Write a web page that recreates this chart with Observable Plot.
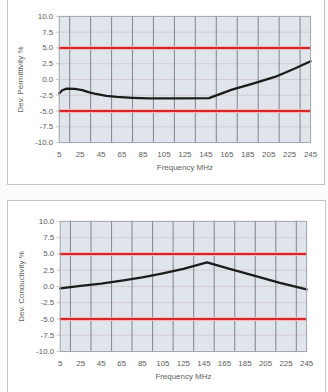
<!DOCTYPE html>
<html>
<head>
<meta charset="utf-8">
<script src="https://cdn.jsdelivr.net/npm/d3@7"></script>
<script src="https://cdn.jsdelivr.net/npm/@observablehq/plot@0.6"></script>
<style>
  html, body { margin: 0; padding: 0; background: #fbfbfb; width: 328px; height: 392px; overflow: hidden; }
  .card { position: absolute; background: #ffffff; border: 1px solid #c4c4c4; box-sizing: border-box; }
  #c1 { left: 7px; top: -2px; width: 318px; height: 187px; }
  #c2 { left: 7px; top: 200px; width: 319px; height: 200px; }
  .card svg { display: block; }
</style>
</head>
<body>
<div class="card" id="c1"></div>
<div class="card" id="c2"></div>
<script>
// ---- data ----
const freqTicks = [5, 25, 45, 65, 85, 105, 125, 145, 165, 185, 205, 225, 245];
const gridFreq = [15, 35, 55, 75, 95, 115, 135, 155, 175, 195, 215, 235];
const yTicks = [-10, -7.5, -5, -2.5, 0, 2.5, 5, 7.5, 10];
const limits = [-5, 5];

const permFreq = [5, 8, 12, 20, 27, 33, 40, 50, 60, 75, 90, 120, 148, 170, 190, 211, 230, 245];
const permDev = [-2.2, -1.7, -1.45, -1.5, -1.7, -2.0, -2.3, -2.6, -2.75, -2.9, -3.0, -3.0, -2.95, -1.6, -0.65, 0.4, 1.75, 2.9];

const condFreq = [5, 25, 45, 65, 85, 105, 125, 148, 170, 192, 219, 245];
const condDev = [-0.3, 0.1, 0.45, 0.9, 1.4, 2.0, 2.7, 3.7, 2.7, 1.75, 0.55, -0.45];

function chart({freq, dev, ylabel, width, height, mt, mb, ml, mr}) {
  const data = freq.map((f, i) => ({f, v: dev[i]}));
  return Plot.plot({
    width, height,
    marginTop: mt, marginBottom: mb, marginLeft: ml, marginRight: mr,
    style: {fontFamily: "'Liberation Sans', Arial, sans-serif", fontSize: "8px", color: "#5e5e5e", background: "transparent"},
    x: {domain: [5, 245]},
    y: {domain: [-10, 10]},
    marks: [
      Plot.frame({fill: "#e0e4eb"}),
      Plot.ruleY(yTicks.filter(d => Math.abs(d) !== 10 && Math.abs(d) !== 5), {stroke: "#d6ccd4", strokeWidth: 1}),
      Plot.ruleX(gridFreq, {stroke: "#878c96", strokeWidth: 1.1}),
      Plot.ruleY(limits, {stroke: "#f4b8b8", strokeWidth: 4}),
      Plot.ruleY(limits, {stroke: "#d22a2c", strokeWidth: 2}),
      Plot.line(data, {x: "f", y: "v", stroke: "#1c1c1c", strokeWidth: 2.3, strokeLinejoin: "round"}),
      Plot.frame({stroke: "#a0a3a8"}),
      Plot.axisX({ticks: freqTicks, tickSize: 0, tickPadding: 9, tickFormat: d => String(d),
        label: "Frequency MHz", labelAnchor: "center", labelArrow: "none", labelOffset: 28}),
      Plot.axisY({ticks: yTicks, tickSize: 3, tickPadding: 3, stroke: "#c8c8c8", tickFormat: d => d.toFixed(1),
        label: ylabel, labelAnchor: "center", labelArrow: "none", labelOffset: 42})
    ]
  });
}

document.getElementById("c1").appendChild(chart({
  freq: permFreq, dev: permDev, ylabel: "Dev. Permittivity %",
  width: 318, height: 187, mt: 17, mb: 43, ml: 51, mr: 14
}));
document.getElementById("c2").appendChild(chart({
  freq: condFreq, dev: condDev, ylabel: "Dev. Conductivity %",
  width: 319, height: 192, mt: 20, mb: 41, ml: 52, mr: 19
}));
</script>
</body>
</html>
